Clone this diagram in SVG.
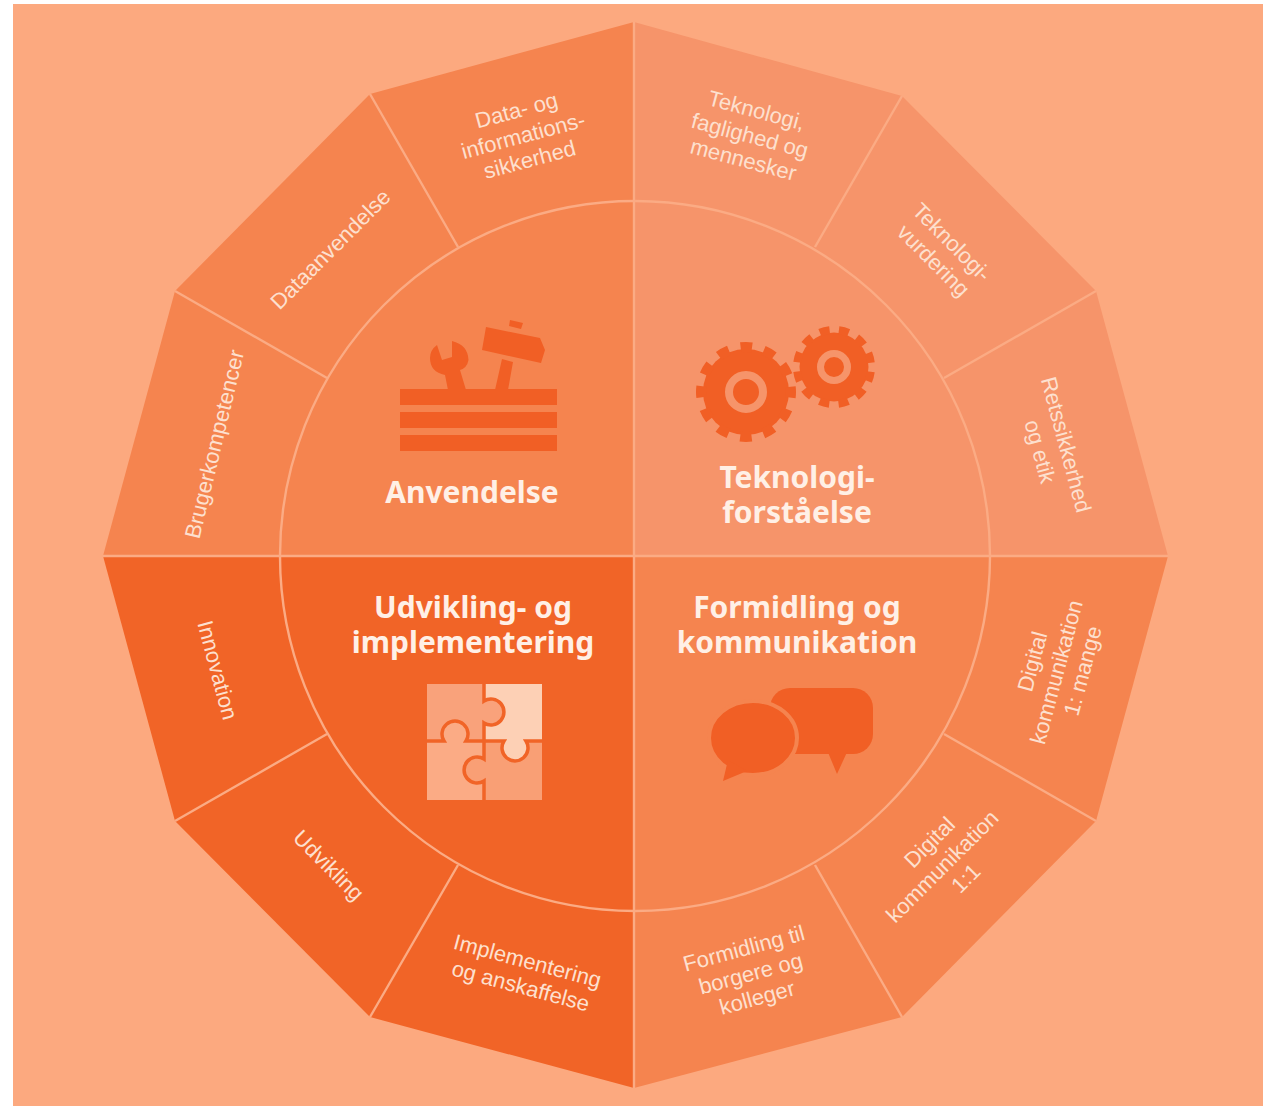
<svg xmlns="http://www.w3.org/2000/svg" width="1268" height="1108" viewBox="0 0 1268 1108">
<style>
.s{font-family:"Liberation Sans",Arial,sans-serif;font-size:22px;fill:#fde0cf;text-anchor:middle}
.h{font-family:"Noto Sans",sans-serif;font-weight:700;font-size:30px;fill:#fff0e6;text-anchor:middle}
.l{stroke:#fbab84;stroke-width:2.4;fill:none}
.i{fill:#f15f25}
</style>
<rect width="1268" height="1108" fill="#ffffff"/>
<rect x="13" y="4" width="1250" height="1102" fill="#fca97f"/>
<g id="quadrants">
<path id="q-anvendelse" d="M634 556V22L370 94 175 291 103 556Z" fill="#f5844f"/>
<path id="q-teknologi" d="M634 556V22L902 96 1096 291 1168 556Z" fill="#f6946a"/>
<path id="q-formidling" d="M634 556V1088L902 1017 1096 821 1168 556Z" fill="#f5844f"/>
<path id="q-udvikling" d="M634 556V1088L370 1017 175 821 103 556Z" fill="#f16427"/>
</g>
<g id="connectors">
<circle class="l" cx="635" cy="556" r="355"/>
<path class="l" d="M634 22V1088M103 556H1168M370 94L458 247M175 291L327 378M175 821L327 734M370 1017L458 865M902 1017L815 865M1096 821L944 734M1096 291L944 378M902 96L815 247"/>
</g>
<g id="node-anvendelse">
<path class="i" d="M400 389H557V405H400ZM400 412H557V428H400ZM400 435H557V451H400Z"/>
<path class="i" d="M486 327L540 338 545 350 541 363 482 350ZM510 320L523 323 521 329 509 326ZM502 359L513 362 508 390H495Z"/>
<path class="i" d="M437 345L442 360 452 357 452 341Q468 345 468.500 360Q467 368 460 370L466 390H448L445 375Q430 372 430 358Q430 350 437 345Z"/>
<text class="h" x="472" y="503">Anvendelse</text>
</g>
<g id="node-teknologi">
<circle class="i" cx="746" cy="392" r="43"/>
<circle cx="746" cy="392" r="45" fill="none" stroke="#f15f25" stroke-width="10" stroke-dasharray="11.500 12.060" stroke-dashoffset="5.750"/>
<circle class="i" cx="834" cy="367" r="34.500"/>
<circle cx="834" cy="367" r="37" fill="none" stroke="#f15f25" stroke-width="8" stroke-dasharray="10 9.370" stroke-dashoffset="-4.690"/>
<circle cx="746" cy="392" r="17" fill="none" stroke="#f6946a" stroke-width="8"/>
<circle cx="834" cy="367" r="13.500" fill="none" stroke="#f6946a" stroke-width="7"/>
<text class="h" x="797" y="488">Teknologi-</text>
<text class="h" x="797" y="523">forståelse</text>
</g>
<g id="node-formidling">
<rect class="i" x="770" y="688" width="103" height="66" rx="20"/>
<path class="i" d="M827 750L837 774 848 750Z"/>
<ellipse class="i" cx="753" cy="738" rx="44" ry="37" stroke="#f5844f" stroke-width="4"/>
<path class="i" d="M728 760L723 781 747 771Z"/>
<text class="h" x="797" y="618">Formidling og</text>
<text class="h" x="797" y="653">kommunikation</text>
</g>
<g id="node-udvikling">
<rect x="427" y="684" width="57" height="57" fill="#f9a27b"/>
<rect x="484" y="684" width="58" height="57" fill="#fdd0b5"/>
<rect x="427" y="741" width="57" height="59" fill="#fbab85"/>
<rect x="484" y="741" width="58" height="59" fill="#f99f75"/>
<path d="M484 701A13 13 0 1 1 484 723Z" fill="#f9a27b"/>
<path d="M444 741A13 13 0 1 1 466 741Z" fill="#fbab85"/>
<path d="M504 741A13 13 0 1 0 526 741Z" fill="#fdd0b5"/>
<path d="M484 759A13 13 0 1 0 484 781Z" fill="#f99f75"/>
<path fill="none" stroke="#f16427" stroke-width="3.500" d="M484 684V701A13 13 0 1 1 484 723V759A13 13 0 1 0 484 781V800M427 741H444A13 13 0 1 1 466 741H504A13 13 0 1 0 526 741H542"/>
<text class="h" x="473" y="618">Udvikling- og</text>
<text class="h" x="473" y="653">implementering</text>
</g>
<g id="node-data-sikkerhed" transform="translate(523 135) rotate(-15)"><text class="s" y="-18">Data- og</text><text class="s" y="8">informations-</text><text class="s" y="33">sikkerhed</text></g>
<g id="node-teknologi-faglighed" transform="translate(750 135) rotate(15)"><text class="s" y="-18">Teknologi,</text><text class="s" y="8">faglighed og</text><text class="s" y="33">mennesker</text></g>
<g id="node-teknologivurdering" transform="translate(943 251) rotate(45)"><text class="s" y="-5">Teknologi-</text><text class="s" y="21">vurdering</text></g>
<g id="node-retssikkerhed" transform="translate(1053 448) rotate(75)"><text class="s" y="-6">Retssikkerhed</text><text class="s" y="21">og etik</text></g>
<g id="node-digital-mange" transform="translate(1056 672) rotate(-75)"><text class="s" x="4" y="-18">Digital</text><text class="s" y="8">kommunikation</text><text class="s" x="8" y="33">1: mange</text></g>
<g id="node-digital-1-1" transform="translate(942 866) rotate(-45)"><text class="s" x="8" y="-18">Digital</text><text class="s" y="8">kommunikation</text><text class="s" x="8" y="33">1:1</text></g>
<g id="node-formidling-til" transform="translate(751 975) rotate(-15)"><text class="s" y="-20">Formidling til</text><text class="s" y="6">borgere og</text><text class="s" y="31">kolleger</text></g>
<g id="node-implementering" transform="translate(524 974) rotate(15)"><text class="s" y="-6">Implementering</text><text class="s" y="20">og anskaffelse</text></g>
<g id="node-udvikling-s" transform="translate(329 865) rotate(45)"><text class="s" y="8">Udvikling</text></g>
<g id="node-innovation" transform="translate(218 670) rotate(75)"><text class="s" y="8">Innovation</text></g>
<g id="node-brugerkompetencer" transform="translate(214 444) rotate(-76.500)"><text class="s" y="8">Brugerkompetencer</text></g>
<g id="node-dataanvendelse" transform="translate(330 249) rotate(-45)"><text class="s" y="8">Dataanvendelse</text></g>
</svg>
